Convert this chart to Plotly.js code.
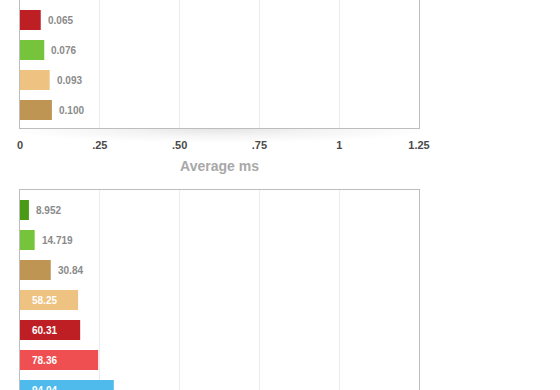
<!DOCTYPE html>
<html>
<head>
<meta charset="utf-8">
<script src="https://cdn.plot.ly/plotly-3.0.1.min.js"></script>
<style>
  html, body { margin: 0; padding: 0; width: 560px; height: 390px; overflow: hidden; background: #fff; }
  #shadow { position: absolute; left: 20px; top: 129px; width: 400px; height: 14px;
            background: radial-gradient(ellipse 55% 100% at 50% 0%, rgba(0,0,0,0.10) 0%, rgba(0,0,0,0.04) 50%, rgba(0,0,0,0) 100%); }
  #chart { position: absolute; left: 0; top: -60px; width: 560px; height: 520px; }
</style>
</head>
<body>
<div id="shadow"></div>
<div id="chart"></div>
<script>
// ---- data ----
const topCategories = ["A", "B", "C", "D"];
const topValues = [0.065, 0.076, 0.093, 0.100];
const topLabels = ["0.065", "0.076", "0.093", "0.100"];
const topColors = ["#BE1F24", "#76C43B", "#EEC280", "#BF9554"];

const botCategories = ["E", "F", "G", "H", "I", "J", "K"];
const botValues = [8.952, 14.719, 30.84, 58.25, 60.31, 78.36, 94.04];
const botLabels = ["8.952", "14.719", "30.84", "58.25", "60.31", "78.36", "94.04"];
const botColors = ["#4A9A16", "#76C43B", "#BF9554", "#EEC280", "#BE1F24", "#EF4F51", "#4FBBEC"];
const botInside = [false, false, false, true, true, true, true];

const topTickVals = [0, 0.25, 0.5, 0.75, 1, 1.25];
const topTickText = ["0", ".25", ".50", ".75", "1", "1.25"];

// ---- traces ----
const traces = [
  {
    type: "bar", orientation: "h",
    x: topValues, y: topCategories,
    marker: { color: topColors, line: { width: 0 } },
    width: 0.667, hoverinfo: "skip",
    xaxis: "x", yaxis: "y"
  },
  {
    type: "bar", orientation: "h",
    x: botValues, y: botCategories,
    marker: { color: botColors, line: { width: 0 } },
    width: 0.667, hoverinfo: "skip",
    xaxis: "x2", yaxis: "y2"
  }
];

const annotations = [];
topValues.forEach((v, i) => {
  annotations.push({
    x: v, y: topCategories[i], xref: "x", yref: "y",
    text: topLabels[i], showarrow: false, xanchor: "left", xshift: 5,
    font: { family: "Liberation Sans, Arial, sans-serif", size: 10, color: "#8a8a8a", weight: "bold" }
  });
});
botValues.forEach((v, i) => {
  const inside = botInside[i];
  annotations.push({
    x: inside ? 0 : v, y: botCategories[i], xref: "x2", yref: "y2",
    text: botLabels[i], showarrow: false, xanchor: "left", xshift: inside ? 10 : 5,
    font: { family: "Liberation Sans, Arial, sans-serif", size: 10,
            color: inside ? "#ffffff" : "#8a8a8a", weight: "bold" }
  });
});

const layout = {
  width: 560, height: 520,
  margin: { l: 20, r: 141, t: 0, b: 0, pad: 0 },
  paper_bgcolor: "rgba(0,0,0,0)",
  plot_bgcolor: "#ffffff",
  showlegend: false,
  font: { family: "Liberation Sans, Arial, sans-serif" },
  xaxis: {
    domain: [0, 1], anchor: "y",
    range: [0, 1.25], fixedrange: true,
    tickvals: topTickVals, ticktext: topTickText,
    ticks: "outside", ticklen: 7, tickcolor: "rgba(0,0,0,0)",
    tickfont: { size: 11, color: "#4a4a4a", weight: "bold" },
    showgrid: true, gridcolor: "#ececec", gridwidth: 1,
    zeroline: false,
    showline: true, linecolor: "#bdbdbd", linewidth: 1, mirror: true,
    title: { text: "Average ms", font: { size: 14, color: "#a8a8a8", weight: "bold" }, standoff: 10 }
  },
  yaxis: {
    domain: [1 - 188 / 520, 1], anchor: "x",
    type: "category", categoryarray: topCategories,
    range: [3.6, -2.6667], fixedrange: true,
    showticklabels: false, ticks: "", showgrid: false, zeroline: false,
    showline: true, linecolor: "#bdbdbd", linewidth: 1, mirror: true
  },
  xaxis2: {
    domain: [0, 1], anchor: "y2",
    range: [0, 400], dtick: 80, fixedrange: true,
    showticklabels: false, ticks: "",
    showgrid: true, gridcolor: "#ececec", gridwidth: 1,
    zeroline: false,
    showline: true, linecolor: "#bdbdbd", linewidth: 1, mirror: true
  },
  yaxis2: {
    domain: [0, 1 - 250 / 520], anchor: "x2",
    type: "category", categoryarray: botCategories,
    range: [8.3333, -0.6667], fixedrange: true,
    showticklabels: false, ticks: "", showgrid: false, zeroline: false,
    showline: true, linecolor: "#bdbdbd", linewidth: 1, mirror: true
  },
  annotations: annotations
};

Plotly.newPlot("chart", traces, layout, { displayModeBar: false, staticPlot: true });
</script>
</body>
</html>
